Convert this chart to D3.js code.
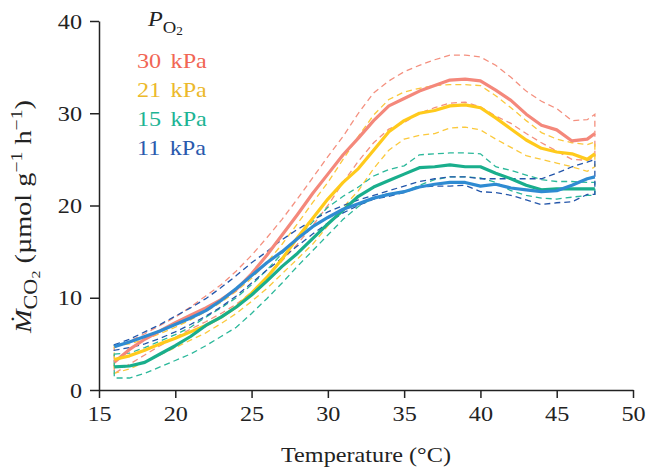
<!DOCTYPE html>
<html>
<head>
<meta charset="utf-8">
<script src="https://cdn.jsdelivr.net/npm/d3@7"></script>
<style>
  body { margin: 0; background: #fff; }
  svg { display: block; font-family: "Liberation Serif", "DejaVu Serif", serif; }
  .axis path, .axis line { stroke: #222; stroke-width: 1.5; }
  .axis text { font-size: 22px; fill: #222; font-family: "Liberation Serif", serif; }
</style>
</head>
<body>
<div id="chart"></div>
<script>
// temperature (°C)
const temps = [16,17,18,19,20,21,22,23,24,25,26,27,28,29,30,31,32,33,34,35,36,37,38,39,40,41,42,43,44,45,46,47,47.5];

// 30 kPa
const red30Mean  = [3.0,4.4,5.5,6.4,7.3,8.1,8.9,9.8,10.9,12.6,14.6,16.8,19.0,21.3,23.4,25.5,27.3,29.2,30.8,31.6,32.4,33.0,33.6,33.7,33.5,32.5,31.4,29.9,28.7,28.2,27.0,27.2,27.8];
const red30Upper = [4.6,5.3,6.1,7.0,7.9,9.0,10.2,11.4,12.9,14.6,16.5,18.5,20.7,23.0,25.3,27.5,30.0,32.2,33.5,34.5,35.2,35.8,36.3,36.3,36.1,35.2,33.9,32.4,31.3,30.5,29.2,29.3,29.9];
const red30Lower = [1.8,2.8,3.8,4.8,5.7,6.6,7.4,8.3,9.3,10.6,12.2,14.0,15.8,17.8,20.0,22.5,24.8,26.8,28.3,29.0,30.0,30.6,31.1,31.2,30.7,29.7,28.9,27.8,26.8,25.9,25.0,24.9,25.2];

// 21 kPa
const yellow21Mean  = [3.3,3.7,4.3,5.0,5.6,6.3,7.0,7.9,9.0,10.5,12.2,14.2,16.5,18.6,20.7,22.5,24.0,26.0,28.0,29.2,30.0,30.3,30.8,30.9,30.6,29.5,28.3,27.1,26.2,25.8,25.6,25.0,25.6];
const yellow21Upper = [4.8,5.0,5.5,6.1,6.8,7.6,8.5,9.5,10.7,12.1,13.8,15.8,18.0,20.3,22.5,25.0,27.5,29.8,31.5,32.3,32.7,33.0,33.1,33.1,33.0,31.9,30.6,29.2,27.9,27.2,26.8,26.6,26.9];
const yellow21Lower = [1.8,2.3,3.0,3.8,4.6,5.4,6.2,7.2,8.3,9.6,11.0,12.6,14.2,15.8,17.8,19.8,21.6,24.0,26.0,27.2,27.6,27.8,28.4,28.5,28.2,27.2,26.3,25.4,25.0,24.6,24.2,23.7,24.2];

// 15 kPa
const green15Mean  = [2.5,2.6,3.0,3.9,4.8,5.8,7.0,7.9,9.0,10.3,11.8,13.4,14.8,16.4,18.0,19.5,21.0,22.0,22.7,23.4,24.1,24.2,24.4,24.2,24.2,23.5,22.9,22.2,21.7,21.8,21.8,21.8,21.8];
const green15Upper = [3.9,4.0,4.6,5.3,6.0,6.8,7.9,8.9,10.0,11.4,13.0,14.8,16.5,18.2,19.8,21.0,22.0,23.2,23.9,24.3,25.5,25.6,25.7,25.7,25.6,24.2,23.8,23.3,22.8,22.6,22.6,22.5,22.5];
const green15Lower = [1.3,1.3,1.8,2.5,3.2,3.9,4.8,5.8,6.8,8.3,9.9,11.6,13.4,15.1,16.8,18.5,19.9,20.8,21.3,21.5,22.2,22.8,23.1,23.1,23.0,22.5,21.6,21.1,20.8,20.7,20.9,21.1,21.1];

// 11 kPa
const blue11Mean  = [4.7,5.2,5.8,6.4,7.1,7.8,8.6,9.7,11.0,12.4,13.8,15.0,16.4,17.7,18.7,19.6,20.2,20.8,21.2,21.5,22.0,22.3,22.5,22.5,22.1,22.3,21.9,21.7,21.5,21.6,22.2,22.9,23.1];
const blue11Upper = [4.9,5.5,6.3,7.1,8.0,8.9,9.9,11.1,12.4,13.8,15.0,16.3,17.4,18.4,19.3,20.0,20.6,21.1,21.6,22.1,22.6,22.9,23.1,23.1,22.9,22.9,22.9,22.9,22.9,23.5,24.2,24.7,25.0];
const blue11Lower = [4.3,4.6,5.0,5.6,6.3,7.1,8.0,9.0,10.2,11.6,13.0,14.3,15.6,16.9,18.1,19.2,20.0,20.7,21.0,21.4,22.0,22.1,22.1,22.2,21.5,21.4,21.1,20.6,20.1,20.3,20.4,21.2,21.2];

const xTicks = [15,20,25,30,35,40,45,50];
const yTicks = [0,10,20,30,40];
const legendLabels = ['30 kPa', '21 kPa', '15 kPa', '11 kPa'];

const series = [
    { name: legendLabels[0], mean: red30Mean, upper: red30Upper, lower: red30Lower,
      solid: '#f4887b', dash: '#f4907f', text: '#f16654' },
    { name: legendLabels[1], mean: yellow21Mean, upper: yellow21Upper, lower: yellow21Lower,
      solid: '#ffca1c', dash: '#fbc93c', text: '#ecb92a' },
    { name: legendLabels[2], mean: green15Mean, upper: green15Upper, lower: green15Lower,
      solid: '#19ae8c', dash: '#2bb89a', text: '#1db494' },
    { name: legendLabels[3], mean: blue11Mean, upper: blue11Upper, lower: blue11Lower,
      solid: '#2f8bd2', dash: '#2456aa', text: '#2a5aad' }
];

// the original type is a little wider than Liberation Serif
function stretch(sel, k) {
    sel.each(function() {
        const w = this.getComputedTextLength();
        d3.select(this)
            .attr('textLength', w * k)
            .attr('lengthAdjust', 'spacingAndGlyphs');
    });
}

const W = 647, H = 468;
const svg = d3.select('#chart').append('svg')
    .attr('width', W)
    .attr('height', H);

const x = d3.scaleLinear().domain([15, 50]).range([99, 633]);
const y = d3.scaleLinear().domain([0, 40]).range([390, 21]);

// envelopes (dashed, closed)
const line = d3.line().x(d => x(d[0])).y(d => y(d[1]));
series.forEach(s => {
    const up = temps.map((t, i) => [t, s.upper[i]]);
    const lo = temps.map((t, i) => [t, s.lower[i]]).reverse();
    svg.append('path')
        .attr('d', line(up.concat(lo)) + 'Z')
        .attr('fill', 'none')
        .attr('stroke', s.dash)
        .attr('stroke-width', 1.3)
        .attr('stroke-dasharray', '6,4');
});

// means
series.forEach(s => {
    svg.append('path')
        .attr('d', line(temps.map((t, i) => [t, s.mean[i]])))
        .attr('fill', 'none')
        .attr('stroke', s.solid)
        .attr('stroke-width', 3.2)
        .attr('stroke-linejoin', 'round');
});

// axes
const xAxis = svg.append('g')
    .attr('class', 'axis')
    .attr('transform', 'translate(0,390)')
    .call(d3.axisBottom(x).tickValues(xTicks).tickSize(8).tickSizeOuter(0).tickPadding(7));

const yAxis = svg.append('g')
    .attr('class', 'axis')
    .attr('transform', 'translate(99,0)')
    .call(d3.axisLeft(y).tickValues(yTicks).tickSize(9).tickSizeOuter(0).tickPadding(8));

stretch(xAxis.selectAll('text'), 1.1);
stretch(yAxis.selectAll('text'), 1.1);

// x title
const xt = svg.append('text')
    .attr('x', 366)
    .attr('y', 462)
    .attr('text-anchor', 'middle')
    .style('font-size', '22px')
    .style('fill', '#222')
    .text('Temperature (°C)');
stretch(xt, 1.1);

// y title
const yt = svg.append('text')
    .attr('transform', 'translate(31,216.5) rotate(-90)')
    .attr('text-anchor', 'middle')
    .style('font-size', '23px')
    .style('fill', '#222');
yt.append('tspan').style('font-style', 'italic').text('Ṁ');
yt.append('tspan').attr('dy', 6).style('font-size', '18px').text('CO');
yt.append('tspan').attr('dy', 3).style('font-size', '13px').text('2');
yt.append('tspan').attr('dy', -9).text(' (µmol g');
yt.append('tspan').attr('dy', -9).style('font-size', '16px').text('−1');
yt.append('tspan').attr('dy', 9).text(' h');
yt.append('tspan').attr('dy', -9).style('font-size', '16px').text('−1');
yt.append('tspan').attr('dy', 9).text(')');
yt.attr('textLength', 233).attr('lengthAdjust', 'spacingAndGlyphs');

// legend
const lt = svg.append('text')
    .attr('x', 148)
    .attr('y', 26)
    .style('font-size', '22px')
    .style('fill', '#222');
lt.append('tspan').style('font-style', 'italic').text('P');
lt.append('tspan').attr('dy', 7).style('font-size', '17px').text('O');
lt.append('tspan').attr('dy', 2).style('font-size', '12px').text('2');
stretch(lt, 1.1);

const items = svg.selectAll('.legend-item')
    .data(series)
    .enter().append('text')
    .attr('class', 'legend-item')
    .attr('x', 137)
    .attr('y', (d, i) => 68 + i * 29)
    .style('font-size', '22px')
    .style('fill', d => d.text)
    .style('word-spacing', '3px')
    .text(d => d.name);
stretch(items, 1.1);
</script>
</body>
</html>
